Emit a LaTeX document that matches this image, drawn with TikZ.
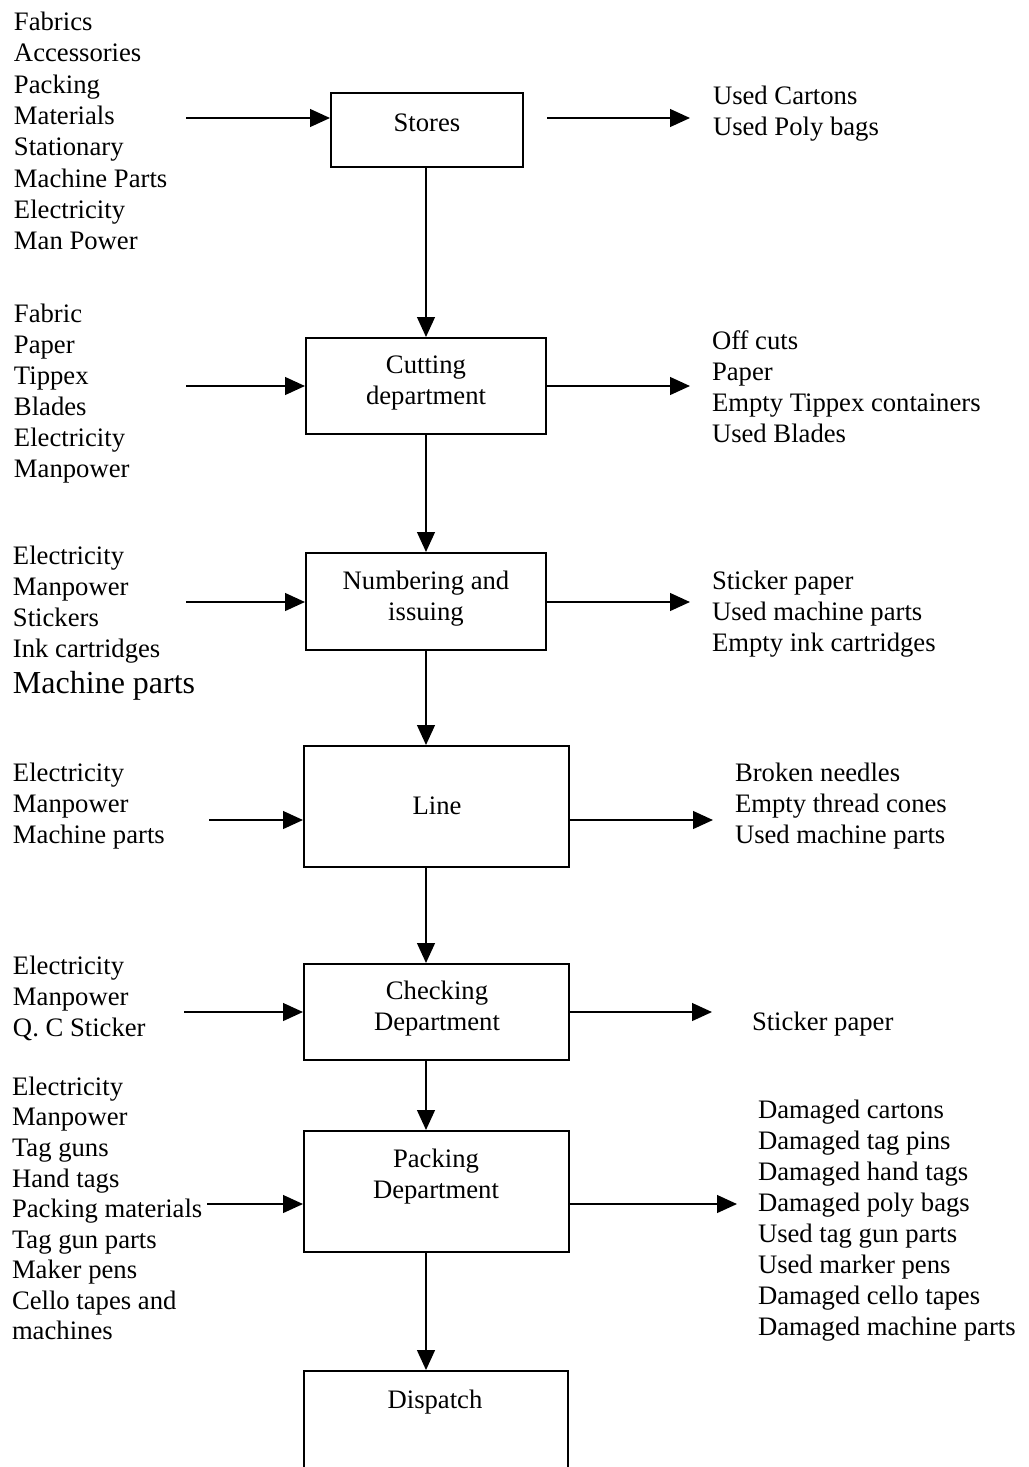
\documentclass[tikz,border=0pt]{standalone}
\usepackage{fontspec}
\setmainfont{Liberation Serif}
\usetikzlibrary{arrows.meta}

\begin{document}
\begin{tikzpicture}[
    x=0.45pt, y=-0.45pt,
    line width=0.9pt,
    >={Triangle[length=9pt,width=8pt]},
    font=\fontsize{12}{13.95}\selectfont,
    box/.style={draw, line width=0.9pt, inner sep=0pt},
    boxtxt/.style={inner sep=0pt, align=center},
    itemlist/.style={anchor=west, inner sep=0pt, align=left}
]
    \useasboundingbox (0,0) rectangle (1028,1467);

    % ================= 方框 =================
    \node[box, minimum width=86.4pt,  minimum height=33.3pt]  (stores)    at (427,130)    {};
    \node[box, minimum width=108pt,   minimum height=43.2pt]  (cutting)   at (426,386)    {};
    \node[box, minimum width=108pt,   minimum height=43.65pt] (numbering) at (426,601.5)  {};
    \node[box, minimum width=119.25pt,minimum height=54.45pt] (line)      at (436.5,806.5) {};
    \node[box, minimum width=119.25pt,minimum height=43.2pt]  (checking)  at (436.5,1012) {};
    \node[box, minimum width=119.25pt,minimum height=54.45pt] (packing)   at (436.5,1191.5) {};
    \node[box, minimum width=118.8pt, minimum height=49pt]    (dispatch)  at (436,1425.5) {};

    \node[boxtxt] (storesTxt)    at (427,122.5)  {Stores};
    \node[boxtxt] (cuttingTxt)   at (426,383.5)  {Cutting\\department};
    \node[boxtxt] (numberingTxt) at (426,598.5)  {Numbering and\\issuing};
    \node[boxtxt] (lineTxt)      at (437,806)    {Line};
    \node[boxtxt] (checkingTxt)  at (437,1008.5) {Checking\\Department};
    \node[boxtxt] (packingTxt)   at (436,1176.5) {Packing\\Department};
    \node[boxtxt] (dispatchTxt)  at (435,1402)   {Dispatch};

    % ================= 纵向主流程 =================
    \draw[->] (stores.south -| cutting.north) -- (cutting.north);
    \draw[->] (cutting.south) -- (numbering.north);
    \draw[->] (numbering.south) -- (numbering.south |- line.north);
    \draw[->] (line.south -| numbering.south) -- (checking.north -| numbering.south);
    \draw[->] (checking.south -| numbering.south) -- (packing.north -| numbering.south);
    \draw[->] (packing.south -| numbering.south) -- (dispatch.north -| numbering.south);

    % ================= Stores =================
    \node[itemlist, font=\fontsize{12}{14.1}\selectfont] (storesIn) at (13,131)
        {Fabrics\\Accessories\\Packing\\Materials\\Stationary\\Machine Parts\\Electricity\\Man Power};
    \node[itemlist] (storesOut) at (712,114) {Used Cartons\\Used Poly bags};
    \coordinate (sIn) at (186,118);
    \coordinate (sOutA) at (547,118);
    \coordinate (sOutB) at (690,118);
    \draw[->] (sIn) -- (sIn -| stores.west);
    \draw[->] (sOutA) -- (sOutB);

    % ================= Cutting =================
    \node[itemlist] (cuttingIn) at (13,394)
        {Fabric\\Paper\\Tippex\\Blades\\Electricity\\Manpower};
    \node[itemlist] (cuttingOut) at (711,386.5)
        {Off cuts\\Paper\\Empty Tippex containers\\Used Blades};
    \coordinate (cIn) at (186,386);
    \coordinate (cOut) at (690,386);
    \draw[->] (cIn) -- (cutting.west);
    \draw[->] (cutting.east) -- (cOut);

    % ================= Numbering =================
    \node[itemlist] (numberingIn) at (12,604.5)
        {Electricity\\Manpower\\Stickers\\Ink cartridges};
    \node[itemlist, font=\fontsize{14.4}{17}\selectfont] (numberingInB) at (12,686) {Machine parts};
    \node[itemlist] (numberingOut) at (711,614)
        {Sticker paper\\Used machine parts\\Empty ink cartridges};
    \coordinate (nIn) at (186,602);
    \coordinate (nOut) at (690,602);
    \draw[->] (nIn) -- (nIn -| numbering.west);
    \draw[->] (nOut -| numbering.east) -- (nOut);

    % ================= Line =================
    \node[itemlist] (lineIn) at (12,806.5) {Electricity\\Manpower\\Machine parts};
    \node[itemlist] (lineOut) at (734,806.5)
        {Broken needles\\Empty thread cones\\Used machine parts};
    \coordinate (lIn) at (209,820);
    \coordinate (lOut) at (713,820);
    \draw[->] (lIn) -- (lIn -| line.west);
    \draw[->] (lOut -| line.east) -- (lOut);

    % ================= Checking =================
    \node[itemlist] (checkingIn) at (12,998.5) {Electricity\\Manpower\\Q. C Sticker};
    \node[itemlist] (checkingOut) at (751,1024) {Sticker paper};
    \coordinate (kIn) at (184,1012);
    \coordinate (kOut) at (712,1012);
    \draw[->] (kIn) -- (checking.west);
    \draw[->] (checking.east) -- (kOut);

    % ================= Packing =================
    \node[itemlist, font=\fontsize{12}{13.75}\selectfont] (packingIn) at (11,1208.5)
        {Electricity\\Manpower\\Tag guns\\Hand tags\\Packing materials\\Tag gun parts\\Maker pens\\Cello tapes and\\machines};
    \node[itemlist] (packingOut) at (757,1220.5)
        {Damaged cartons\\Damaged tag pins\\Damaged hand tags\\Damaged poly bags\\Used tag gun parts\\Used marker pens\\Damaged cello tapes\\Damaged machine parts};
    \coordinate (pIn) at (207,1204);
    \coordinate (pOut) at (737,1204);
    \draw[->] (pIn) -- (pIn -| packing.west);
    \draw[->] (pOut -| packing.east) -- (pOut);

\end{tikzpicture}
\end{document}
